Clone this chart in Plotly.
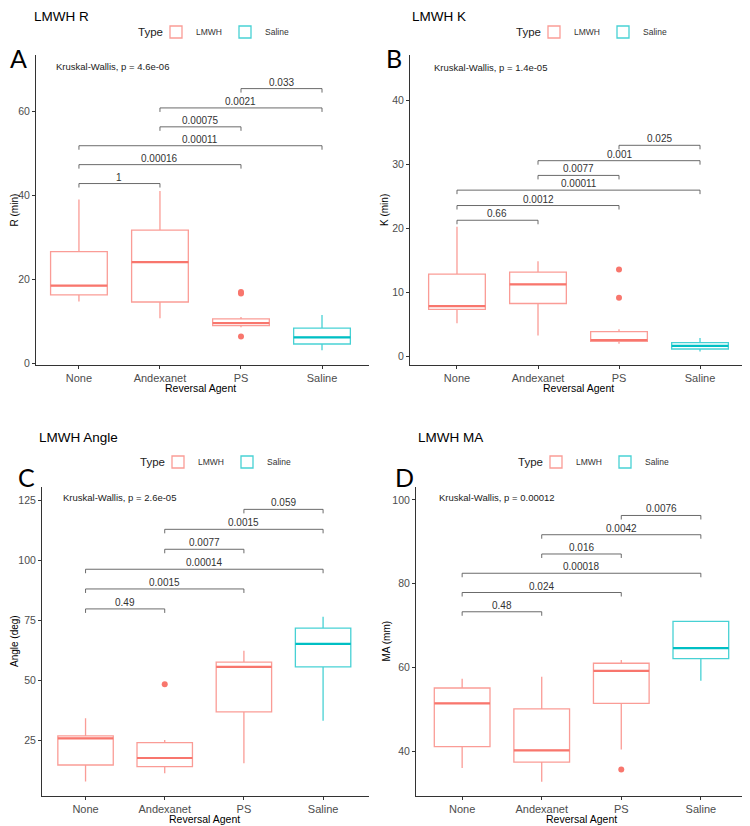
import plotly.graph_objects as go

# ---------------- data ----------------
categories = ["None", "Andexanet", "PS", "Saline"]
types = ["LMWH", "LMWH", "LMWH", "Saline"]
pairs = [("None", "Andexanet"), ("None", "PS"), ("None", "Saline"),
         ("Andexanet", "PS"), ("Andexanet", "Saline"), ("PS", "Saline")]

# Panel A: R (min)
r_low = [14.8, 10.8, 8.7, 3.2]
r_q1 = [16.4, 14.7, 9.1, 4.7]
r_med = [18.6, 24.2, 9.7, 6.3]
r_q3 = [26.7, 31.8, 10.7, 8.5]
r_high = [39.1, 41.1, 11.1, 11.6]
r_out_cat = ["PS", "PS", "PS"]
r_out_val = [16.7, 17.1, 6.5]
r_pvals = ["1", "0.00016", "0.00011", "0.00075", "0.0021", "0.033"]
r_bracket_y = [42.9, 47.4, 51.9, 56.4, 60.9, 65.5]
r_kw = "Kruskal-Wallis, p = 4.6e-06"
r_kw_y = 70.7

# Panel B: K (min)
k_low = [5.2, 3.3, 2.0, 0.8]
k_q1 = [7.4, 8.3, 2.4, 1.2]
k_med = [7.9, 11.3, 2.6, 1.7]
k_q3 = [12.9, 13.2, 3.9, 2.2]
k_high = [20.3, 14.9, 4.3, 2.9]
k_out_cat = ["PS", "PS"]
k_out_val = [9.2, 13.6]
k_pvals = ["0.66", "0.0012", "0.00011", "0.0077", "0.001", "0.025"]
k_bracket_y = [21.3, 23.6, 26.0, 28.3, 30.6, 33.0]
k_kw = "Kruskal-Wallis, p = 1.4e-05"
k_kw_y = 45.2

# Panel C: Angle (deg)
a_low = [8.0, 11.5, 15.6, 33.3]
a_q1 = [14.9, 14.2, 37.0, 55.7]
a_med = [26.0, 17.8, 55.7, 65.3]
a_q3 = [27.0, 24.2, 57.7, 71.8]
a_high = [34.3, 25.3, 62.4, 76.5]
a_out_cat = ["Andexanet"]
a_out_val = [48.5]
a_pvals = ["0.49", "0.0015", "0.00014", "0.0077", "0.0015", "0.059"]
a_bracket_y = [79.8, 88.1, 96.3, 104.6, 112.9, 121.2]
a_kw = "Kruskal-Wallis, p = 2.6e-05"
a_kw_y = 126.1

# Panel D: MA (mm)
m_low = [36.0, 32.7, 40.4, 56.8]
m_q1 = [41.1, 37.4, 51.4, 62.1]
m_med = [51.4, 40.2, 59.2, 64.6]
m_q3 = [55.1, 50.1, 61.0, 71.0]
m_high = [57.3, 57.8, 61.8, 71.0]
m_out_cat = ["PS"]
m_out_val = [35.6]
m_pvals = ["0.48", "0.024", "0.00018", "0.016", "0.0042", "0.0076"]
m_bracket_y = [73.3, 77.9, 82.5, 87.1, 91.7, 96.3]
m_kw = "Kruskal-Wallis, p = 0.00012"
m_kw_y = 100.5

# ---------------- layout config (page pixel positions) ----------------
PAGE_W, PAGE_H = 750, 826
OFF = 8  # default body margin of the html page
W, H = PAGE_W - OFF, PAGE_H - OFF


def fx(px):
    return (px - OFF) / W


def fy(py):
    return 1 - (py - OFF) / H


panels = [
    dict(title="LMWH R", letter="A", ytitle="R (min)",
         stats=(r_low, r_q1, r_med, r_q3, r_high), out=(r_out_cat, r_out_val),
         pvals=r_pvals, by=r_bracket_y, kw=r_kw, kw_y=r_kw_y,
         yrange=[-0.3, 73.5], yticks=[0, 20, 40, 60], xrange=[-0.53, 3.58],
         px=(36, 369), py=(55, 365), title_xy=(32, 16), letter_xy=(18, 58),
         type_xy=(136, 32), legend_xy=(156, 32), ytitle_x=14.5),
    dict(title="LMWH K", letter="B", ytitle="K (min)",
         stats=(k_low, k_q1, k_med, k_q3, k_high), out=(k_out_cat, k_out_val),
         pvals=k_pvals, by=k_bracket_y, kw=k_kw, kw_y=k_kw_y,
         yrange=[-1.3, 47.1], yticks=[0, 10, 20, 30, 40], xrange=[-0.58, 3.58],
         px=(410, 747), py=(55, 365), title_xy=(410, 16), letter_xy=(394, 58),
         type_xy=(514, 32), legend_xy=(534, 32), ytitle_x=385),
    dict(title="LMWH Angle", letter="C", ytitle="Angle (deg)",
         stats=(a_low, a_q1, a_med, a_q3, a_high), out=(a_out_cat, a_out_val),
         pvals=a_pvals, by=a_bracket_y, kw=a_kw, kw_y=a_kw_y,
         yrange=[2.0, 130.5], yticks=[25, 50, 75, 100, 125], xrange=[-0.55, 3.58],
         px=(42, 369), py=(487, 796), title_xy=(37, 437), letter_xy=(26, 477),
         type_xy=(138, 462), legend_xy=(158, 462), ytitle_x=14.5),
    dict(title="LMWH MA", letter="D", ytitle="MA (mm)",
         stats=(m_low, m_q1, m_med, m_q3, m_high), out=(m_out_cat, m_out_val),
         pvals=m_pvals, by=m_bracket_y, kw=m_kw, kw_y=m_kw_y,
         yrange=[29.3, 103.1], yticks=[40, 60, 80, 100], xrange=[-0.58, 3.58],
         px=(416, 747), py=(487, 796), title_xy=(416, 437), letter_xy=(404, 477),
         type_xy=(516, 462), legend_xy=(536, 462), ytitle_x=386),
]

COL = {"LMWH": "#F8766D", "Saline": "#00BFC4"}
BOX_LINE = {"LMWH": "rgba(248,118,109,0.72)", "Saline": "rgba(0,191,196,0.72)"}
BOXW = 0.7
BR_COL = "#5a5a5a"
AX_COL = "#333333"
FONT = "Liberation Sans, Arial, sans-serif"

fig = go.Figure()
layout = dict(width=W, height=H, margin=dict(l=0, r=0, t=0, b=0),
              plot_bgcolor="white", paper_bgcolor="white",
              font=dict(family=FONT, color="black"), boxmode="overlay",
              annotations=[], showlegend=True)

for k, p in enumerate(panels, start=1):
    sfx = "" if k == 1 else str(k)
    xa, ya = "x" + sfx, "y" + sfx
    leg = "legend" + sfx
    low, q1, med, q3, high = p["stats"]
    for t in ["LMWH", "Saline"]:
        idx = [i for i in range(len(categories)) if types[i] == t]
        fig.add_trace(go.Box(
            x=idx, q1=[q1[i] for i in idx], median=[med[i] for i in idx],
            q3=[q3[i] for i in idx], lowerfence=[low[i] for i in idx],
            upperfence=[high[i] for i in idx], name=t,
            line=dict(color=BOX_LINE[t], width=1.3), fillcolor="rgba(0,0,0,0)",
            whiskerwidth=0, width=BOXW, boxpoints=False,
            xaxis=xa, yaxis=ya, legend=leg, showlegend=True, hoverinfo="skip"))
        # thicker median lines
        mx, my = [], []
        for i in idx:
            mx += [i - BOXW / 2, i + BOXW / 2, None]
            my += [med[i], med[i], None]
        fig.add_trace(go.Scatter(x=mx, y=my, mode="lines",
                                 line=dict(color=COL[t], width=2.2),
                                 xaxis=xa, yaxis=ya, showlegend=False, hoverinfo="skip"))
    # outliers
    oc, ov = p["out"]
    fig.add_trace(go.Scatter(x=[categories.index(c) for c in oc], y=ov, mode="markers",
                             marker=dict(color=COL["LMWH"], size=6),
                             xaxis=xa, yaxis=ya, showlegend=False, hoverinfo="skip"))
    # brackets
    span = p["yrange"][1] - p["yrange"][0]
    ph = p["py"][1] - p["py"][0]
    tick = 4.0 / ph * span
    bx, byy = [], []
    for (a, b), yv, lab in zip(pairs, p["by"], p["pvals"]):
        i, j = categories.index(a), categories.index(b)
        bx += [i, i, j, j, None]
        byy += [yv - tick, yv, yv, yv - tick, None]
        layout["annotations"].append(dict(
            x=(i + j) / 2, y=yv, xref=xa, yref=ya, text=lab, showarrow=False,
            yanchor="bottom", yshift=-1, font=dict(size=10, color="#333333")))
    fig.add_trace(go.Scatter(x=bx, y=byy, mode="lines",
                             line=dict(color=BR_COL, width=0.9),
                             xaxis=xa, yaxis=ya, showlegend=False, hoverinfo="skip"))
    # Kruskal-Wallis label
    layout["annotations"].append(dict(
        x=-0.31, y=p["kw_y"], xref=xa, yref=ya, text=p["kw"], showarrow=False,
        xanchor="left", yanchor="middle", font=dict(size=9.5, color="#222222")))
    # title & letter
    tx, ty = p["title_xy"]
    layout["annotations"].append(dict(
        x=fx(tx), y=fy(ty), xref="paper", yref="paper", text=p["title"],
        showarrow=False, xanchor="left", yanchor="middle",
        font=dict(size=13.5, color="black")))
    lx, ly = p["letter_xy"]
    layout["annotations"].append(dict(
        x=fx(lx), y=fy(ly), xref="paper", yref="paper", text=p["letter"],
        showarrow=False, xanchor="center", yanchor="middle",
        font=dict(size=25, color="black", family="Lato, Open Sans, sans-serif")))
    # legend title
    gx, gy = p["type_xy"]
    layout["annotations"].append(dict(
        x=fx(gx), y=fy(gy), xref="paper", yref="paper", text="Type",
        showarrow=False, xanchor="left", yanchor="middle",
        font=dict(size=11.5, color="#222222")))
    # axes
    x0, x1 = p["px"]
    y0, y1 = p["py"]
    layout["annotations"].append(dict(
        x=fx(p["ytitle_x"]), y=fy((y0 + y1) / 2), xref="paper", yref="paper",
        text=p["ytitle"], textangle=-90, showarrow=False,
        xanchor="center", yanchor="middle", font=dict(size=10, color="black")))
    layout["annotations"].append(dict(
        x=1.5, y=fy(y1 + 23), xref=xa, yref="paper",
        text="Reversal Agent", showarrow=False,
        xanchor="center", yanchor="middle", font=dict(size=10.5, color="black")))
    layout["xaxis" + sfx] = dict(
        domain=[fx(x0), fx(x1)], range=p["xrange"], anchor=ya, automargin=False,
        tickvals=list(range(len(categories))), ticktext=categories,
        showline=True, linecolor=AX_COL, linewidth=1, ticks="outside",
        ticklen=3, tickcolor=AX_COL, tickfont=dict(size=11, color="#4d4d4d"),
        showgrid=False, zeroline=False)
    layout["yaxis" + sfx] = dict(
        domain=[fy(y1), fy(y0)], range=p["yrange"], anchor=xa,
        automargin=False,
        tickvals=p["yticks"], showline=True, linecolor=AX_COL, linewidth=1,
        ticks="outside", ticklen=3, tickcolor=AX_COL,
        tickfont=dict(size=10.5, color="#4d4d4d"), showgrid=False, zeroline=False)
    lgx, lgy = p["legend_xy"]
    layout[leg] = dict(
        orientation="h", x=fx(lgx), y=fy(lgy), xanchor="left", yanchor="middle",
        valign="middle",
        font=dict(size=8.5, color="#333333"), bgcolor="rgba(0,0,0,0)",
        itemwidth=30, entrywidth=24, entrywidthmode="pixels", tracegroupgap=0)

fig.update_layout(**layout)
fig.write_html("out.html")
